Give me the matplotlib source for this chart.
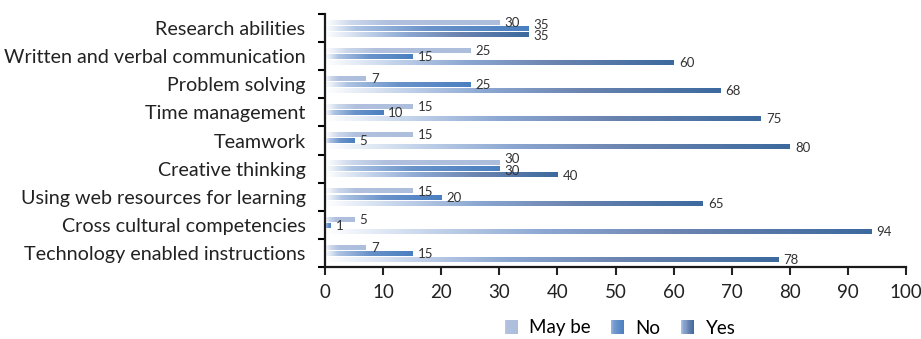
import numpy as np
import matplotlib.pyplot as plt
from matplotlib.colors import LinearSegmentedColormap
from matplotlib.patches import Rectangle
from matplotlib.legend_handler import HandlerBase

plt.rcParams['font.family'] = ['Lato', 'DejaVu Sans']

skills = ["Research abilities", "Written and verbal communication", "Problem solving",
          "Time management", "Teamwork", "Creative thinking",
          "Using web resources for learning", "Cross cultural competencies",
          "Technology enabled instructions"]
may_be = [30, 25, 7, 15, 15, 30, 15, 5, 7]
no = [35, 15, 25, 10, 5, 30, 20, 1, 15]
yes = [35, 60, 68, 75, 80, 40, 65, 94, 78]

series = [
    ("May be", may_be, 0.30, [(0, '#ffffff'), (0.15, '#ccd7eb'), (0.35, '#b0c0de'), (1, '#adbedd')]),
    ("No", no, 0.515, [(0, '#ffffff'), (0.15, '#aec4e3'), (0.5, '#6a93ca'), (1, '#4a7fc0')]),
    ("Yes", yes, 0.73, [(0, '#ffffff'), (0.2, '#c2d2ea'), (0.4, '#8ca8d2'), (0.65, '#6b84b0'), (1, '#3c699e')]),
]
bar_h = 0.17

fig = plt.figure(figsize=(9.21, 3.39), dpi=100)
ax = fig.add_axes([325 / 921, 1 - 267 / 339, (906 - 325) / 921, (267 - 14) / 339])

grad = np.linspace(0, 1, 256).reshape(1, -1)
cmaps = {}
for k, (name, vals, off, stops) in enumerate(series):
    cmap = LinearSegmentedColormap.from_list(name, stops)
    cmaps[name] = cmap
    for i, v in enumerate(vals):
        yc = i + off
        ax.imshow(grad, cmap=cmap, aspect='auto', interpolation='bilinear',
                  extent=(0, v, yc + bar_h / 2, yc - bar_h / 2), zorder=2)
        # nudge labels apart when neighbouring bars end at nearly the same value
        dy = 0.02
        if k + 1 < len(series) and abs(series[k + 1][1][i] - v) < 4:
            dy -= 0.16
        if k > 0 and abs(series[k - 1][1][i] - v) < 4:
            dy += 0.05
        ax.text(v + 0.9, yc + dy, str(v), va='center', ha='left',
                fontsize=9.5, color='#333333')

ax.set_xlim(0, 100)
ax.set_ylim(len(skills), 0)

ax.set_xticks(np.arange(0, 101, 10))
ax.set_yticks(np.arange(0, len(skills) + 1))
ax.set_yticklabels([])
ax.set_yticks(np.arange(len(skills)) + 0.5, minor=True)
ax.set_yticklabels(skills, minor=True)
ax.tick_params(axis='y', which='minor', length=0, labelsize=14.2, pad=14, colors='#222222')
ax.tick_params(axis='y', which='major', length=5, width=1.5, direction='out')
ax.tick_params(axis='x', length=6, width=1.5, direction='out', labelsize=13.5, pad=6,
               colors='#222222')

for s in ['top', 'right']:
    ax.spines[s].set_visible(False)
for s in ['left', 'bottom']:
    ax.spines[s].set_linewidth(1.6)
    ax.spines[s].set_color('#1a1a1a')


class GradientHandler(HandlerBase):
    def create_artists(self, legend, orig_handle, xdescent, ydescent, width, height, fontsize, trans):
        cmap = cmaps[orig_handle.get_label()]
        n = 12
        arts = []
        for k in range(n):
            r = Rectangle((-xdescent + width * k / n, -ydescent), width / n + 0.1, height,
                          facecolor=cmap(0.25 + 0.75 * (k + 0.5) / n), edgecolor='none',
                          transform=trans)
            arts.append(r)
        return arts


handles = [Rectangle((0, 0), 1, 1, label=name) for name, _, _, _ in series]
fig.legend(handles=handles, labels=[h.get_label() for h in handles],
           handler_map={Rectangle: GradientHandler()},
           loc='center', bbox_to_anchor=(620 / 921, 1 - 328 / 339), ncol=3,
           frameon=False, fontsize=13.5, handlelength=0.7, handleheight=0.85,
           handletextpad=0.6, columnspacing=1.1)

fig.savefig('out.png', dpi=100)
